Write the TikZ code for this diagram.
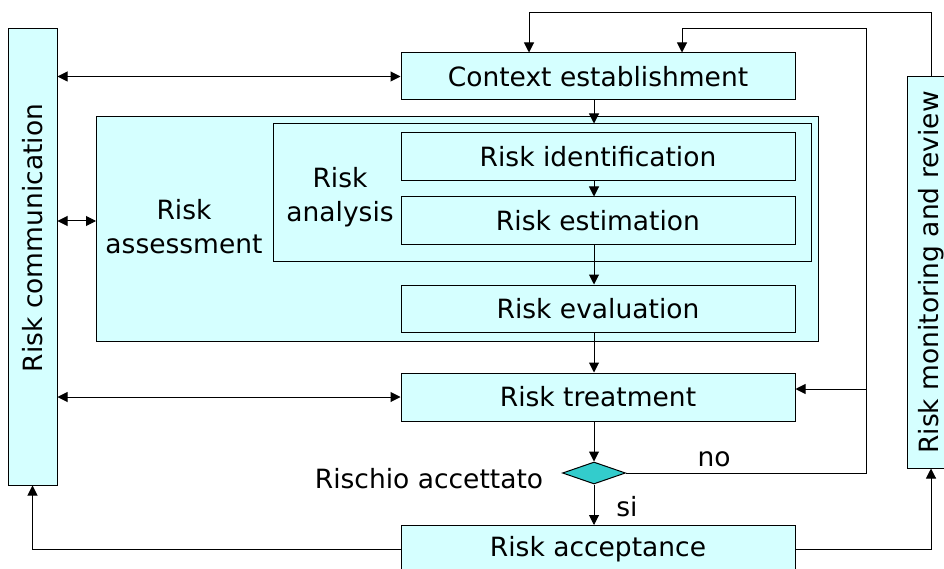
\documentclass[tikz,border=0pt]{standalone}
\usepackage{fontspec}
\setmainfont{DejaVu Sans}
\usetikzlibrary{arrows.meta, shapes.geometric}
\definecolor{boxcyan}{HTML}{D5FFFF}
\definecolor{diacyan}{HTML}{33CCCC}
\tikzset{
  flow arrow style/.style={
    >={Triangle[length=10pt,width=10pt]}, % arrow tip style
    line width=1pt,                      % default line thickness
  }
}
\tikzset{every path/.style={flow arrow style}}
\tikzset{
  stagebox/.style={draw, fill=boxcyan, line width=1pt, minimum width=394pt,
    minimum height=47pt, inner sep=0pt},
  sidebox/.style={draw, fill=boxcyan, line width=1pt, rotate=90, inner sep=0pt},
  plain/.style={align=center}
}

\begin{document}
\begin{tikzpicture}[x=1pt, y=-1pt, font=\fontsize{26.5}{34}\selectfont]
    \useasboundingbox (0,0) rectangle (944,569);

    % Side boxes
    \node[sidebox, minimum width=456pt, minimum height=49pt] (comm) at (32.5,257) {};
    \node[rotate=90] (commlbl) at (32.5,238) {Risk communication};
    \node[sidebox, minimum width=391pt, minimum height=48pt] (monitor) at (931,272.5) {Risk monitoring and review};

    % Assessment frames
    \node[draw, fill=boxcyan, minimum width=722pt, minimum height=224pt] (assess) at (457,229) {};
    \node[draw, fill=boxcyan, minimum width=538pt, minimum height=137pt] (analysis) at (542,192.5) {};
    \node[plain] (assesslbl) at (184,227) {Risk\\assessment};
    \node[plain] (analysislbl) at (340,197) {Risk\\analysis};

    % Process steps
    \node[stagebox] (context) at (598,76.5) {Context establishment};
    \node[stagebox, minimum height=48pt] (ident) at (598,157) {Risk identification};
    \node[stagebox, minimum height=48pt] (estim) at (598,221) {Risk estimation};
    \node[stagebox] (evalu) at (598,308.5) {Risk evaluation};
    \node[stagebox, minimum height=48pt] (treat) at (598,397) {Risk treatment};
    \node[stagebox] (accept) at (598,549) {Risk acceptance};

    % Decision
    \node[diamond, draw, fill=diacyan, line width=1pt, minimum width=63pt, minimum height=22pt, inner sep=0pt] (dia) at (594,473) {};
    \node (asklbl) at (429,479) {Rischio accettato};
    \node (nolbl) at (714,459) {no};
    \node (silbl) at (627,507) {si};

    % Turning points
    \coordinate (c1) at (529,13);
    \coordinate (c2) at (866,29);
    \coordinate (c3) at (682,29);
    \coordinate (c4) at (866,389);
    \coordinate (a1) at (96,221);

    % Main flow
    \draw[->] (context.south -| dia) -- (analysis.north -| dia);
    \draw[->] (ident.south -| dia) -- (estim.north -| dia);
    \draw[->] (estim.south -| dia) -- (evalu.north -| dia);
    \draw[->] (evalu.south -| dia) -- (treat.north -| dia);
    \draw[->] (treat.south -| dia) -- (dia.north);
    \draw[->] (dia.south) -- (accept.north -| dia);

    % Feedback loops
    \draw[->] (monitor.east) |- (c1) -- (c1 |- context.north);
    \draw[->] (dia.east) -| (c2) -| (c3 |- context.north);
    \draw[->] (c4) -- (c4 -| treat.east);
    \draw[->] (accept.east) -| (monitor.west);
    \draw[->] (accept.west) -| (comm.west);

    % Communication links
    \draw[<->] (comm.south |- context.west) -- (context.west);
    \draw[<->] (a1 -| comm.south) -- (a1);
    \draw[<->] (comm.south |- treat.west) -- (treat.west);
\end{tikzpicture}
\end{document}
